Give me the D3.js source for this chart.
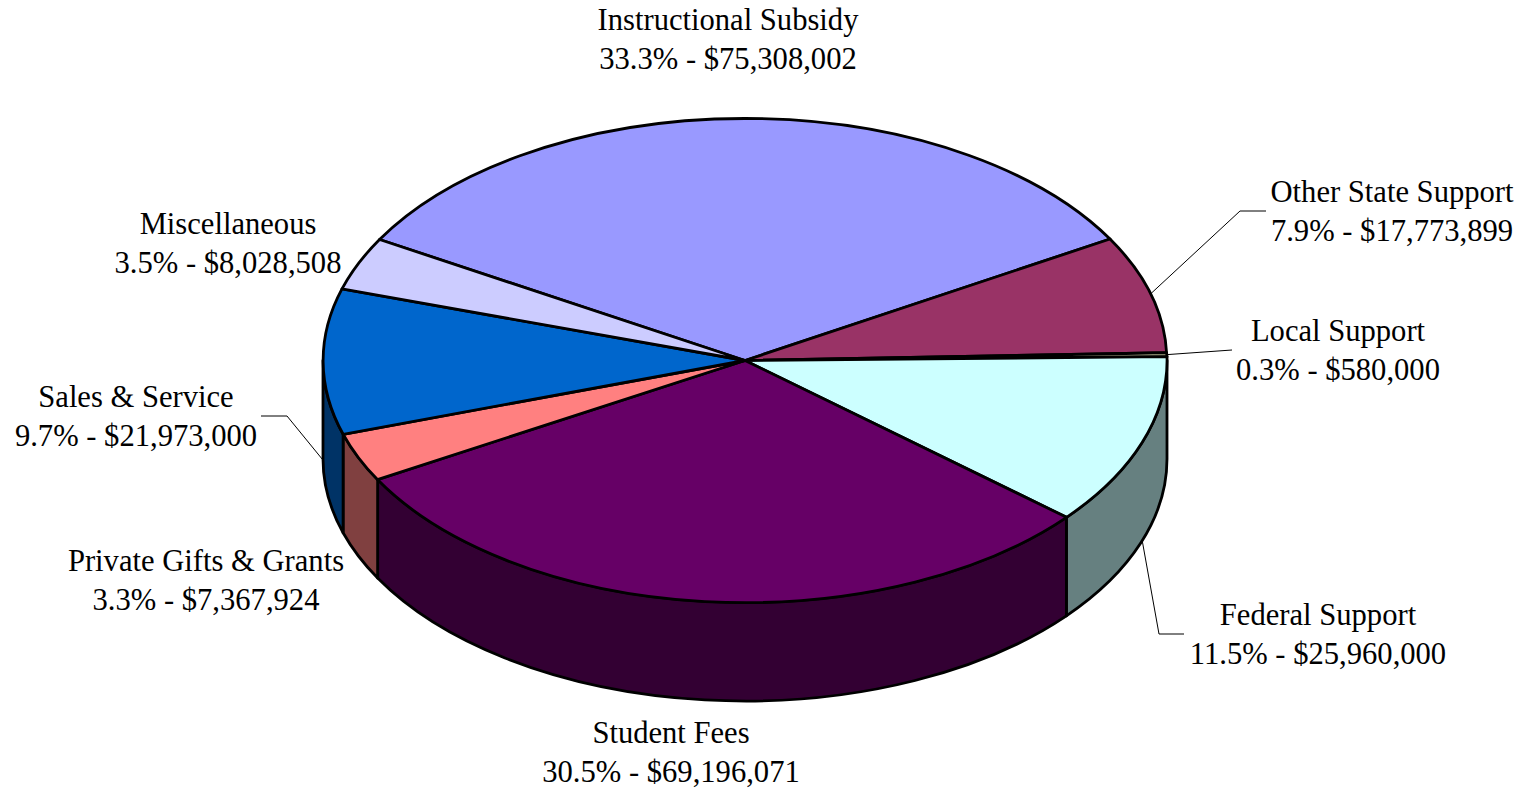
<!DOCTYPE html>
<html>
<head>
<meta charset="utf-8">
<script src="https://cdn.jsdelivr.net/npm/d3@7"></script>
<style>
  html, body { margin: 0; padding: 0; background: #fff; overflow: hidden; }
  svg { display: block; }
  text { font-family: "Liberation Serif", serif; font-size: 30.6px; fill: #000; text-anchor: middle; }
</style>
</head>
<body>
<svg id="chart" width="1528" height="791"></svg>
<script>
// Revenue sources, clockwise from the upper-left edge of the pie
const categories = ["Instructional Subsidy", "Other State Support", "Local Support", "Federal Support",
                    "Student Fees", "Private Gifts & Grants", "Sales & Service", "Miscellaneous"];
const amounts = [75308002, 17773899, 580000, 25960000, 69196071, 7367924, 21973000, 8028508];
const percentLabels = ["33.3%", "7.9%", "0.3%", "11.5%", "30.5%", "3.3%", "9.7%", "3.5%"];
const topColors = ["#9999FF", "#993366", "#FFFFCC", "#CCFFFF", "#660066", "#FF8080", "#0066CC", "#CCCCFF"];
const wallColors = ["#4D4D80", "#4D1A33", "#808066", "#668080", "#330033", "#804040", "#003366", "#666680"];

// Label placement: text centre and first baseline for each category
const labelX = [728, 1392, 1338, 1318, 671, 206, 136, 228];
const labelY = [30, 202, 341, 625, 743, 571, 407, 234];
const lineGap = 38.5;

// Leader elbows [x, y, end x]; null where the label sits beside its slice
const leaderElbows = [null, [1240, 211, 1266], [1232, 350, 1232], [1159, 634, 1184], null, null, [287, 416, 261], null];
// Leaders that start on the side wall rather than the top rim
const leaderOnWall = [false, false, false, true, false, false, true, false];

const cx = 745, cy = 360.5, rx = 422, ry = 242, depth = 98.5;
const startAngle = -Math.PI / 3;
const quarter = Math.PI / 2;

const x = d3.scaleLinear().domain([-1, 1]).range([cx - rx, cx + rx]);
const y = d3.scaleLinear().domain([-1, 1]).range([cy - ry, cy + ry]);
const rimX = a => x(Math.sin(a));
const rimY = a => y(-Math.cos(a));

const slices = d3.pie().sort(null)
  .startAngle(startAngle).endAngle(startAngle + 2 * Math.PI)(amounts);

const svg = d3.select("#chart");

// Side wall: only the part of each slice that faces the viewer
function wallPath(a0, a1) {
  const large = a1 - a0 > Math.PI ? 1 : 0;
  return `M${rimX(a0)},${rimY(a0)}` +
         `A${rx},${ry} 0 ${large} 1 ${rimX(a1)},${rimY(a1)}` +
         `L${rimX(a1)},${rimY(a1) + depth}` +
         `A${rx},${ry} 0 ${large} 0 ${rimX(a0)},${rimY(a0) + depth}Z`;
}

const walls = slices
  .map((s, i) => ({ i, a0: Math.max(s.startAngle, quarter), a1: Math.min(s.endAngle, 3 * quarter) }))
  .filter(w => w.a1 > w.a0);

svg.append("g").selectAll("path").data(walls).join("path")
  .attr("d", w => wallPath(w.a0, w.a1))
  .attr("fill", w => wallColors[w.i])
  .attr("stroke", "#000")
  .attr("stroke-width", 2.8)
  .attr("stroke-linejoin", "round");

// Top face: a unit pie stretched into an ellipse
const arc = d3.arc().innerRadius(0).outerRadius(1);
svg.append("g")
  .attr("transform", `translate(${cx},${cy}) scale(${rx},${ry})`)
  .selectAll("path").data(slices).join("path")
  .attr("d", arc)
  .attr("fill", (d, i) => topColors[i])
  .attr("stroke", "#000")
  .attr("stroke-width", 2.8)
  .attr("stroke-linejoin", "round")
  .attr("vector-effect", "non-scaling-stroke");

// Thin leader lines from slice midpoints to their labels
const leaderPath = d3.line();
svg.append("g").selectAll("path")
  .data(slices.map((s, i) => ({ s, i })).filter(d => leaderElbows[d.i]))
  .join("path")
  .attr("d", d => {
    const mid = (d.s.startAngle + d.s.endAngle) / 2;
    const [ex, ey, endX] = leaderElbows[d.i];
    const drop = leaderOnWall[d.i] ? depth : 0;
    return leaderPath([[rimX(mid), rimY(mid) + drop], [ex, ey], [endX, ey]]);
  })
  .attr("fill", "none")
  .attr("stroke", "#000")
  .attr("stroke-width", 1);

// Two-line labels: name, then share and amount
const money = d3.format("$,");
const labels = svg.append("g").selectAll("text").data(categories).join("text");
labels.append("tspan")
  .attr("x", (d, i) => labelX[i]).attr("y", (d, i) => labelY[i])
  .text(d => d);
labels.append("tspan")
  .attr("x", (d, i) => labelX[i]).attr("y", (d, i) => labelY[i] + lineGap)
  .text((d, i) => `${percentLabels[i]} - ${money(amounts[i])}`);
</script>
</body>
</html>
